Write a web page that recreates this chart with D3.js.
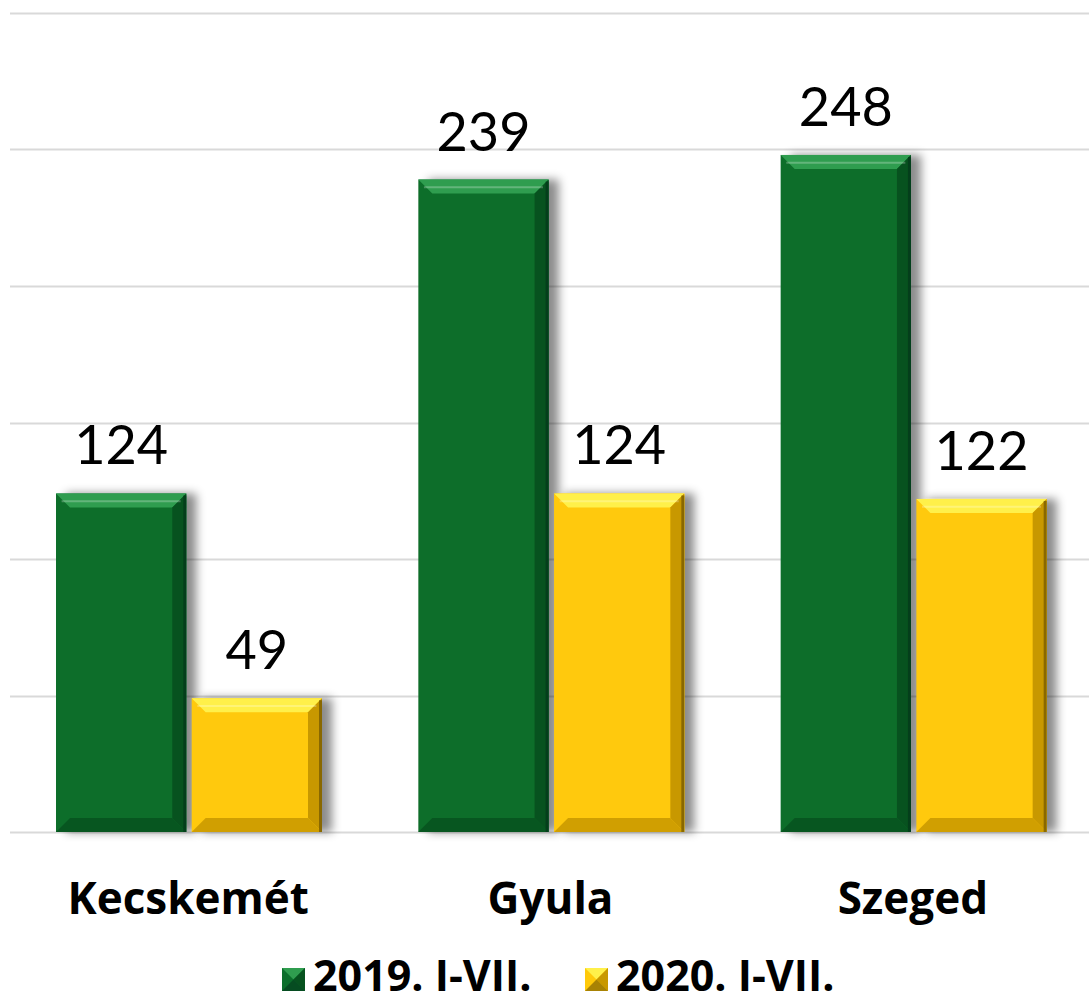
<!DOCTYPE html>
<html lang="hu">
<head>
    <meta charset="UTF-8">
    <title>2019 vs 2020</title>
    <script src="https://d3js.org/d3.v7.min.js"></script>
    <style>
        body {
            margin: 0;
            background: #fff;
            font-family: Lato, 'Open Sans', sans-serif;
        }
        svg { display: block; }
        .grid line { stroke: #d9d9d9; stroke-width: 2; }
        .value { font-size: 54px; fill: #000; text-anchor: middle; }
        .cat { font-family: 'Open Sans', sans-serif; font-size: 44px; font-weight: bold; fill: #000; text-anchor: middle; }
        .legend-text { font-family: 'Open Sans', sans-serif; font-size: 43px; font-weight: bold; fill: #000; }
    </style>
</head>
<body>
<svg width="1089" height="1004"></svg>
<script>
    const categories = ["Kecskemét", "Gyula", "Szeged"];
    const seriesNames = ["2019. I-VII.", "2020. I-VII."];
    const values2019 = [124, 239, 248];
    const values2020 = [49, 124, 122];
    const yTicks = [0, 50, 100, 150, 200, 250, 300];

    const palette = {
        "2019. I-VII.": {base: "#0b6e2b", light: "#2f9d4f", dark: "#03361a", side: "#07521f"},
        "2020. I-VII.": {base: "#ffc90a", light: "#fff04a", dark: "#6e5400", side: "#c89800"}
    };

    const svg = d3.select("svg");
    const W = 1089;

    const x0 = d3.scaleBand().domain(categories).range([8, 1095]).padding(0);
    const x1 = d3.scaleBand().domain(seriesNames).range([48, 314]).paddingInner(0.04);
    const y = d3.scaleLinear().domain([0, 300]).range([832, 13]);

    const defs = svg.append("defs");
    const f = defs.append("filter").attr("id", "shadow")
        .attr("x", "-20%").attr("y", "-20%").attr("width", "160%").attr("height", "140%");
    f.append("feDropShadow").attr("dx", 10).attr("dy", 0).attr("stdDeviation", 5)
        .attr("flood-color", "#000").attr("flood-opacity", 0.45);

    // grid
    svg.append("g").attr("class", "grid")
        .selectAll("line").data(yTicks).join("line")
        .attr("x1", 10).attr("x2", W)
        .attr("y1", d => Math.round(y(d)) + 0.5)
        .attr("y2", d => Math.round(y(d)) + 0.5);

    const rows = categories.map((c, i) => ({
        cat: c,
        vals: [
            {s: seriesNames[0], v: values2019[i]},
            {s: seriesNames[1], v: values2020[i]}
        ]
    }));

    const bev = 14;
    const groups = svg.append("g").selectAll("g").data(rows).join("g")
        .attr("transform", d => `translate(${x0(d.cat)},0)`);

    const bars = groups.selectAll("g.bar").data(d => d.vals).join("g").attr("class", "bar");

    bars.each(function(d) {
        const g = d3.select(this);
        const c = palette[d.s];
        const bx = x1(d.s), bw = x1.bandwidth();
        const top = y(d.v), bot = y(0);
        const b = Math.min(bev, (bot - top) / 3);
        g.append("rect")
            .attr("x", bx).attr("y", top).attr("width", bw).attr("height", bot - top)
            .attr("fill", c.base).attr("filter", "url(#shadow)");
        // top bevel
        g.append("polygon")
            .attr("points", [[bx, top], [bx + bw, top], [bx + bw - b, top + b], [bx + b, top + b]].join(" "))
            .attr("fill", c.light);
        // right bevel
        g.append("polygon")
            .attr("points", [[bx + bw, top], [bx + bw, bot], [bx + bw - b, bot - b], [bx + bw - b, top + b]].join(" "))
            .attr("fill", c.side);
        // bottom bevel
        g.append("polygon")
            .attr("points", [[bx, bot], [bx + bw, bot], [bx + bw - b, bot - b], [bx + b, bot - b]].join(" "))
            .attr("fill", c.side).attr("opacity", 0.85);
        // dark right edge
        g.append("rect")
            .attr("x", bx + bw - 3).attr("y", top + 2).attr("width", 3).attr("height", bot - top - 2)
            .attr("fill", c.dark).attr("opacity", 0.7);
        // highlight line on top bevel
        g.append("line")
            .attr("x1", bx + b * 0.4).attr("x2", bx + bw - b * 0.4)
            .attr("y1", top + b * 0.55).attr("y2", top + b * 0.55)
            .attr("stroke", "#fff").attr("stroke-opacity", 0.25).attr("stroke-width", 2);
        g.append("text").attr("class", "value")
            .attr("x", bx + bw / 2).attr("y", top - 29)
            .text(d.v);
    });

    // category labels
    svg.append("g").selectAll("text").data(categories).join("text")
        .attr("class", "cat")
        .attr("x", d => x0(d) + x0.bandwidth() / 2 - 1)
        .attr("y", 914)
        .text(d => d);

    // legend
    const legendX = [282, 585];
    const leg = svg.append("g").selectAll("g").data(seriesNames).join("g")
        .attr("transform", (d, i) => `translate(${legendX[i]},968)`);
    leg.each(function(d) {
        const g = d3.select(this);
        const c = palette[d];
        const s = 23;
        g.append("rect").attr("width", s).attr("height", s).attr("fill", c.base);
        g.append("polygon").attr("points", [[0, 0], [s, 0], [s / 2, s / 2]].join(" ")).attr("fill", c.light);
        g.append("polygon").attr("points", [[s, 0], [s, s], [s / 2, s / 2]].join(" ")).attr("fill", c.side);
        g.append("polygon").attr("points", [[0, s], [s, s], [s / 2, s / 2]].join(" ")).attr("fill", c.dark).attr("opacity", 0.6);
        g.append("text").attr("class", "legend-text").attr("x", 31).attr("y", 23).text(d);
    });
</script>
</body>
</html>
